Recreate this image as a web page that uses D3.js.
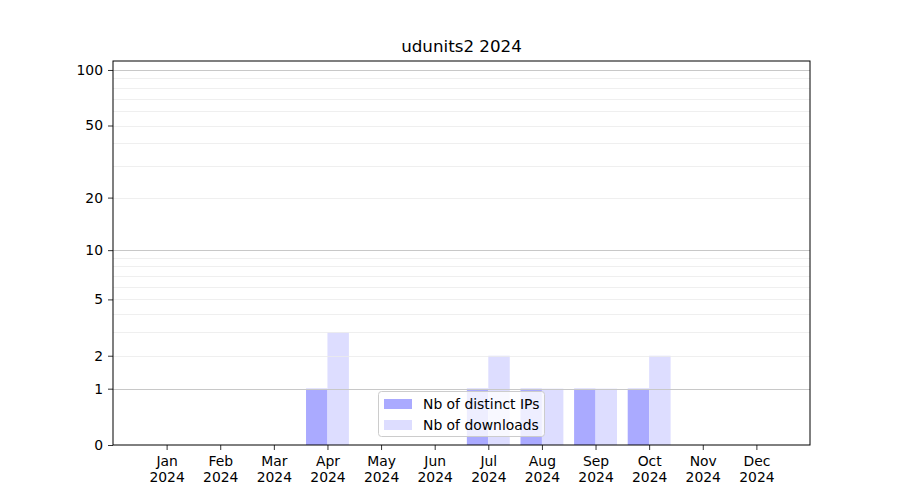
<!DOCTYPE html>
<html><head><meta charset="utf-8">
<script src="https://cdn.jsdelivr.net/npm/d3@7"></script>
<style>body{margin:0;background:#fff}svg text{font-family:"DejaVu Sans",sans-serif;fill:#000}</style>
</head><body>
<svg id="c" width="900" height="500"></svg>
<script>
const months = ["Jan","Feb","Mar","Apr","May","Jun","Jul","Aug","Sep","Oct","Nov","Dec"];
const yearLabel = "2024";
const distinctIPs = [0,0,0,1,0,0,1,1,1,1,0,0];
const downloads  = [0,0,0,3,0,0,2,1,1,2,0,0];
const yTicks = [0,1,2,5,10,20,50,100];
const majorGrid = [1,10,100];
const minorGrid = [2,3,4,5,6,7,8,9,20,30,40,50,60,70,80,90];
const title = "udunits2 2024";
const seriesNames = ["Nb of distinct IPs","Nb of downloads"];
const colors = ["#aaaaff","#ddddff"];

const L=113,R=810,T=61,B=445;
const svg=d3.select("#c");
const x=d3.scaleLinear().domain([-1,12]).range([L,R]);
const y=d3.scaleSymlog().constant(1).domain([0,111.8]).range([B,T]);
const bw=0.4;

// bars
const g=svg.append("g");
g.selectAll("rect.ip").data(distinctIPs).join("rect")
 .attr("x",(d,i)=>x(i-bw)).attr("width",(d,i)=>x(i)-x(i-bw))
 .attr("y",d=>y(d)).attr("height",d=>y(0)-y(d)).attr("fill",colors[0]);
g.selectAll("rect.dl").data(downloads).join("rect")
 .attr("x",(d,i)=>x(i)).attr("width",(d,i)=>x(i+bw)-x(i))
 .attr("y",d=>y(d)).attr("height",d=>y(0)-y(d)).attr("fill",colors[1]);

// grid
svg.append("g").selectAll("line").data(minorGrid).join("line")
 .attr("x1",L).attr("x2",R).attr("y1",d=>Math.round(y(d))+0.5).attr("y2",d=>Math.round(y(d))+0.5)
 .attr("stroke","#ebebeb").attr("stroke-width",0.8);
svg.append("g").selectAll("line").data(majorGrid).join("line")
 .attr("x1",L).attr("x2",R).attr("y1",d=>Math.round(y(d))+0.5).attr("y2",d=>Math.round(y(d))+0.5)
 .attr("stroke","#c8c8c8").attr("stroke-width",1);

// axes
const ya=d3.axisLeft(y).tickValues(yTicks).tickFormat(d3.format("d")).tickSize(5).tickPadding(5);
const yg=svg.append("g").attr("transform",`translate(${L},0)`).call(ya);
yg.select(".domain").remove();
yg.selectAll("text").style("font-size","13.9px");
const xa=d3.axisBottom(x).tickValues(d3.range(12)).tickFormat(i=>months[i]).tickSize(5).tickPadding(6);
const xg=svg.append("g").attr("transform",`translate(0,${B})`).call(xa);
xg.select(".domain").remove();
xg.selectAll("text").style("font-size","13.9px").each(function(i){
  const t=d3.select(this); t.text(null);
  t.append("tspan").attr("x",0).attr("dy","0.71em").text(months[i]);
  t.append("tspan").attr("x",0).attr("dy","1.18em").text(yearLabel);
});
svg.selectAll(".tick line").attr("stroke","#000").attr("stroke-width",0.8);

// frame
svg.append("rect").attr("x",L).attr("y",T).attr("width",R-L).attr("height",B-T)
 .attr("fill","none").attr("stroke","#000").attr("stroke-width",1);

// title
svg.append("text").attr("x",(L+R)/2).attr("y",52).attr("text-anchor","middle")
 .style("font-size","16.7px").text(title);

// legend
const lg=svg.append("g");
lg.append("rect").attr("x",378.5).attr("y",391.5).attr("width",166).attr("height",45).attr("rx",3)
 .attr("fill","#fff").attr("fill-opacity",0.8).attr("stroke","#cccccc");
seriesNames.forEach((n,k)=>{
  const cy=404+k*21;
  lg.append("rect").attr("x",384).attr("y",cy-5).attr("width",28).attr("height",10).attr("fill",colors[k]);
  lg.append("text").attr("x",423).attr("y",cy+5).style("font-size","13.9px").text(n);
});
</script>
</body></html>
